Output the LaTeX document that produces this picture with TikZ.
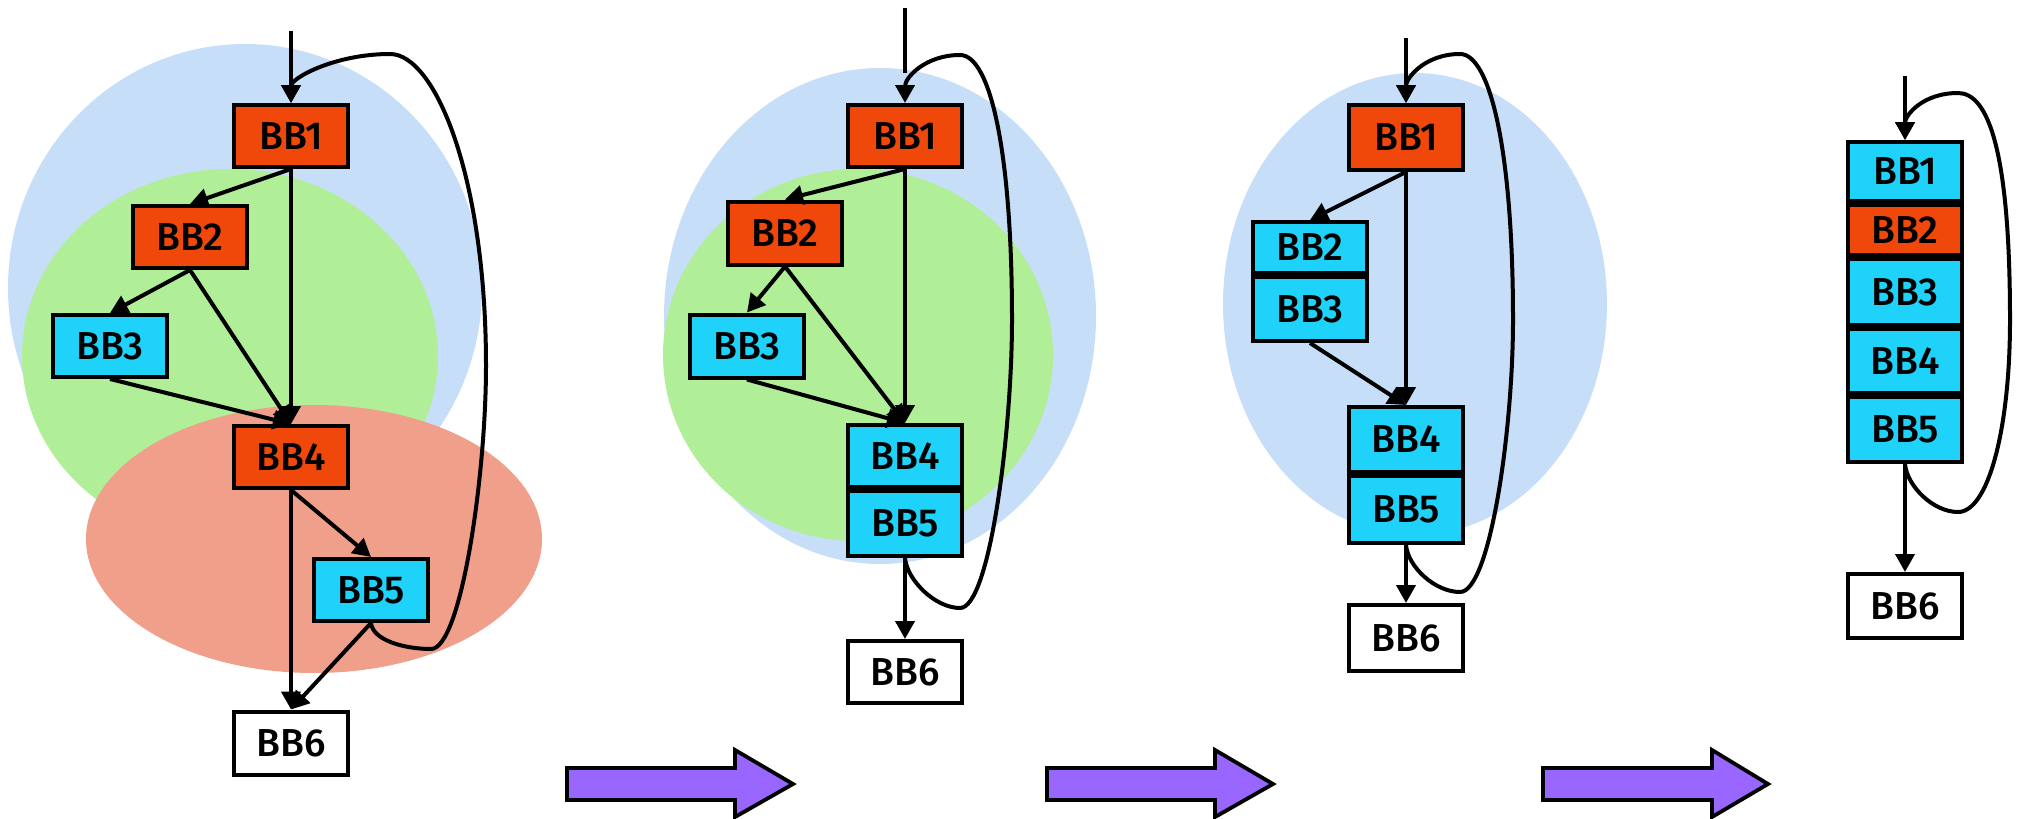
\documentclass[tikz,border=0pt]{standalone}
\usepackage{fontspec}
\setmainfont{Fira Sans}[UprightFont=* Medium]
\usetikzlibrary{arrows.meta}
\definecolor{blockred}{HTML}{F0480A}
\definecolor{blockcyan}{HTML}{1ED2FA}
\definecolor{regionblue}{HTML}{C6DEF8}
\definecolor{regiongreen}{HTML}{B0EE98}
\definecolor{regionred}{HTML}{F0A08A}
\definecolor{arrowpurple}{HTML}{9966FF}
\begin{document}
\begin{tikzpicture}[x=1pt,y=-1pt,
  blk/.style={draw=black, line width=4pt, minimum width=114pt, inner sep=0pt,
              font=\fontsize{39}{39}\selectfont},
  hot/.style={blk, fill=blockred},
  cool/.style={blk, fill=blockcyan},
  plain/.style={blk, fill=white},
  edge/.style={line width=4pt, -{Triangle[length=18pt,width=19pt]}},
  wire/.style={line width=4pt},
  bigarrow/.style={draw=black, line width=3.8pt, fill=arrowpurple, line join=miter}
]
\useasboundingbox (0,0) rectangle (2021,819);

% ---- shaded regions ----
\fill[regionblue]  (245,288) ellipse [x radius=237pt, y radius=244pt];
\fill[regiongreen] (230,356) ellipse [x radius=208pt, y radius=187pt];
\fill[regionred]   (314,539) ellipse [x radius=228pt, y radius=134pt];
\fill[regionblue]  (880,316) ellipse [x radius=216pt, y radius=248pt];
\fill[regiongreen] (858,355) ellipse [x radius=195pt, y radius=186pt];
\fill[regionblue]  (1415,304) ellipse [x radius=192pt, y radius=231pt];

% ---- first graph ----
\node[hot,   minimum height=62pt] (a1) at (291,136) {BB1};
\node[hot,   minimum height=62pt] (a2) at (190,237) {BB2};
\node[cool,  minimum height=62pt] (a3) at (110,346) {BB3};
\node[hot,   minimum height=62pt] (a4) at (291,457) {BB4};
\node[cool,  minimum height=62pt] (a5) at (371,590) {BB5};
\node[plain, minimum height=63pt] (a6) at (291,743) {BB6};
\coordinate (a0) at (291,31);
\draw[edge] (a0) -- (a1.north);
\draw[edge] (a1.south) -- (a2.north);
\draw[edge] (a1.south) -- (a4.north);
\draw[edge] (a2.south) -- (a3.north);
\draw[edge] (a2.south) -- (a4.north);
\draw[edge] (a3.south) -- (a4.north);
\draw[edge] (a4.south) -- (a5.north);
\draw[edge] (a4.south) -- (a6.north);
\draw[edge] (a5.south) -- (a6.north);
\draw[edge] (a5.south) .. controls +(2,18) and +(-25,0) .. (431,649)
            .. controls +(30,0) and +(0,110) .. (486,366)
            .. controls +(0,-190) and +(45,0) .. (390,54)
            .. controls +(-55,0) and +(0,-25) .. (a1.north);

% ---- second graph ----
\node[hot,   minimum height=62pt] (b1) at (905,136) {BB1};
\node[hot,   minimum height=63pt] (b2) at (785,233) {BB2};
\node[cool,  minimum height=63pt] (b3) at (747,346) {BB3};
\node[cool,  minimum height=62pt] (b4) at (905,456) {BB4};
\node[cool,  minimum height=65pt] (b5) at (905,523.5) {BB5};
\node[plain, minimum height=62pt] (b6) at (905,672) {BB6};
\coordinate (b0) at (905,8);
\coordinate (b0e) at (905,73);
\draw[wire] (b0) -- (b0e);
\draw[edge] (b1.south) -- (b2.north);
\draw[edge] (b1.south) -- (b4.north);
\draw[edge] (b2.south) -- (b3.north);
\draw[edge] (b2.south) -- (b4.north);
\draw[edge] (b3.south) -- (b4.north);
\draw[edge] (b5.south) -- (b6.north);
\draw[edge] (b5.south) .. controls +(2,22) and +(-25,0) .. (960,608)
            .. controls +(30,0) and +(0,110) .. (1012,320)
            .. controls +(0,-170) and +(30,0) .. (960,55)
            .. controls +(-35,0) and +(0,-25) .. (b1.north);

% ---- third graph ----
\node[hot,   minimum height=65pt] (c1) at (1406,137.5) {BB1};
\node[cool,  minimum height=51pt] (c2) at (1310,247.5) {BB2};
\node[cool,  minimum height=64pt] (c3) at (1310,309) {BB3};
\node[cool,  minimum height=65pt] (c4) at (1406,439.5) {BB4};
\node[cool,  minimum height=67pt] (c5) at (1406,509.5) {BB5};
\node[plain, minimum height=66pt] (c6) at (1406,638) {BB6};
\coordinate (c0) at (1406,38);
\draw[edge] (c0) -- (c1.north);
\draw[edge] (c1.south) -- (c2.north);
\draw[edge] (c1.south) -- (c4.north);
\draw[edge] (c3.south) -- (c4.north);
\draw[edge] (c5.south) -- (c6.north);
\draw[edge] (c5.south) .. controls +(2,22) and +(-25,0) .. (1460,592)
            .. controls +(30,0) and +(0,110) .. (1513,320)
            .. controls +(0,-170) and +(30,0) .. (1460,54)
            .. controls +(-35,0) and +(0,-25) .. (c1.north);

% ---- fourth graph ----
\node[cool,  minimum height=59pt] (d1) at (1905,171.5) {BB1};
\node[hot,   minimum height=50pt] (d2) at (1905,230) {BB2};
\node[cool,  minimum height=66pt] (d3) at (1905,292) {BB3};
\node[cool,  minimum height=64pt] (d4) at (1905,361) {BB4};
\node[cool,  minimum height=65pt] (d5) at (1905,429.5) {BB5};
\node[plain, minimum height=64pt] (d6) at (1905,606) {BB6};
\coordinate (d0) at (1905,76);
\draw[edge] (d0) -- (d1.north);
\draw[edge] (d5.south) -- (d6.north);
\draw[edge] (d5.south) .. controls +(2,22) and +(-25,0) .. (1958,512)
            .. controls +(30,0) and +(0,110) .. (2010,320)
            .. controls +(0,-170) and +(30,0) .. (1958,93)
            .. controls +(-35,0) and +(0,-25) .. (d1.north);

% ---- transition arrows ----
\draw[bigarrow] (567,768) -- (735,768) -- (735,750) -- (793,784) -- (735,817) -- (735,800) -- (567,800) -- cycle;
\draw[bigarrow] (1047,768) -- (1215,768) -- (1215,750) -- (1273,784) -- (1215,817) -- (1215,800) -- (1047,800) -- cycle;
\draw[bigarrow] (1543,768) -- (1712,768) -- (1712,750) -- (1768,784) -- (1712,817) -- (1712,800) -- (1543,800) -- cycle;
\end{tikzpicture}
\end{document}
